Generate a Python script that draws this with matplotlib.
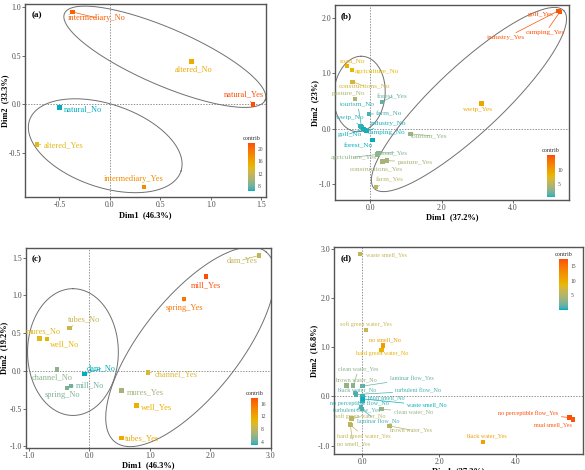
import numpy as np
import matplotlib
matplotlib.use("Agg")
import matplotlib.pyplot as plt
from matplotlib.colors import ListedColormap, Normalize, to_rgb
from matplotlib.ticker import FormatStrFormatter

# ---- panel (a) ----
names_a = ['intermediary_No', 'altered_No', 'natural_Yes', 'natural_No', 'altered_Yes', 'intermediary_Yes']
x_a = [-0.37, 0.81, 1.42, -0.50, -0.72, 0.34]
y_a = [0.95, 0.44, 0.00, -0.03, -0.41, -0.85]
contrib_a = [20.8, 15.2, 21.8, 6.4, 13.8, 18.0]

# ---- panel (b) ----
names_b = ['golf_Yes', 'camping_Yes', 'industry_Yes', 'wwtp_Yes', 'road_No', 'agriculture_No',
           'constructions_No', 'pasture_No', 'forest_Yes', 'tourism_No', 'farm_No', 'wwtp_No',
           'industry_No', 'camping_No', 'golf_No', 'tourism_Yes', 'forest_No', 'road_Yes',
           'agriculture_Yes', 'pasture_Yes', 'constructions_Yes', 'farm_Yes']
x_b = [5.30, 5.32, 5.28, 3.12, -0.65, -0.51, -0.49, -0.42, 0.33, -0.24, -0.03, -0.27,
       -0.10, -0.14, -0.19, 1.13, 0.07, 0.23, 0.21, 0.47, 0.35, 0.17]
y_b = [2.12, 2.11, 2.13, 0.46, 1.13, 1.06, 0.85, 0.54, 0.49, 0.03, 0.27, 0.05,
       -0.04, -0.02, 0.00, -0.09, -0.20, -0.43, -0.46, -0.57, -0.59, -1.05]
contrib_b = [15.4, 15.2, 15.0, 9.5, 8.5, 8.0, 6.5, 4.5, 1.8, 0.9, 1.2, 0.8,
             0.6, 0.6, 0.6, 3.5, 0.5, 2.8, 3.2, 4.0, 4.2, 5.0]

# ---- panel (c) ----
names_c = ['dam_Yes', 'mill_Yes', 'spring_Yes', 'tubes_No', 'mures_No', 'well_No', 'channel_No',
           'dam_No', 'mill_No', 'spring_No', 'channel_Yes', 'mures_Yes', 'well_Yes', 'tubes_Yes']
x_c = [2.80, 1.93, 1.56, -0.33, -0.82, -0.70, -0.53, -0.08, -0.30, -0.37, 0.97, 0.53, 0.78, 0.53]
y_c = [1.53, 1.25, 0.95, 0.57, 0.43, 0.42, 0.02, -0.04, -0.20, -0.23, -0.02, -0.26, -0.46, -0.89]
contrib_c = [8.0, 17.8, 15.5, 8.5, 10.0, 10.5, 5.5, 3.0, 4.5, 5.0, 9.5, 6.5, 11.0, 11.5]

# ---- panel (d) ----
names_d = ['waste smell_Yes', 'soft green water_Yes', 'no smell_No', 'hard green water_No',
           'clean water_Yes', 'brown water_No', 'laminar flow_Yes', 'black water_No',
           'turbulent flow_No', 'mud smell_No', 'no perceptible flow_No', 'waste smell_No',
           'turbulent flow_Yes', 'clean water_No', 'soft green water_No', 'laminar flow_No',
           'brown water_Yes', 'hard green water_Yes', 'no smell_Yes', 'black water_Yes',
           'no perceptible flow_Yes', 'mud smell_Yes']
x_d = [-0.07, 0.09, 0.54, 0.50, -0.24, -0.42, 0.00, -0.20, -0.17, 0.00, 0.00, 0.01,
       -0.03, 0.50, -0.28, -0.01, 0.71, -0.31, -0.32, 3.15, 5.40, 5.49]
y_d = [2.90, 1.35, 1.04, 0.95, 0.22, 0.22, 0.21, 0.07, 0.04, 0.01, -0.08, -0.05,
       -0.22, -0.26, -0.45, -0.26, -0.60, -0.58, -0.57, -0.92, -0.43, -0.47]
contrib_d = [6.0, 6.5, 11.5, 9.5, 3.0, 3.5, 1.5, 1.5, 0.8, 0.6, 0.5, 0.1,
             1.0, 3.5, 5.5, 0.9, 5.0, 6.5, 5.5, 11.0, 17.5, 17.0]

# label positions (repelled text), data units
lab_a = [(-0.13, 0.89), (0.83, 0.36), (1.33, 0.10), (-0.27, -0.05), (-0.46, -0.42), (0.24, -0.77)]
lab_b = [(4.79, 2.07), (4.91, 1.73), (3.80, 1.64), (3.02, 0.35), (-0.48, 1.23), (0.20, 1.04),
         (-0.17, 0.77), (-0.60, 0.64), (0.62, 0.58), (-0.35, 0.45), (0.54, 0.27), (-0.56, 0.20),
         (0.51, 0.10), (0.47, -0.06), (-0.58, -0.09), (1.67, -0.12), (-0.33, -0.30), (0.67, -0.43),
         (-0.47, -0.51), (1.26, -0.60), (0.17, -0.72), (0.54, -0.92)]
lab_c = [(2.53, 1.47), (1.92, 1.14), (1.57, 0.83), (-0.08, 0.69), (-0.75, 0.53), (-0.41, 0.35),
         (-0.61, -0.08), (0.19, 0.03), (0.02, -0.19), (-0.45, -0.32), (1.43, -0.04), (0.92, -0.28),
         (1.11, -0.48), (0.87, -0.89)]
lab_d = [(0.63, 2.87), (0.10, 1.47), (0.58, 1.15), (0.51, 0.88), (-0.10, 0.56), (-0.16, 0.34),
         (1.28, 0.36), (-0.16, 0.13), (1.46, 0.11), (0.63, -0.02), (-0.07, -0.13), (1.67, -0.18),
         (-0.16, -0.28), (1.32, -0.31), (-0.05, -0.41), (0.41, -0.52), (1.25, -0.68), (0.03, -0.81),
         (-0.24, -0.97), (3.24, -0.81), (4.33, -0.34), (4.97, -0.58)]

plt.rcParams['font.family'] = ['Liberation Serif', 'DejaVu Serif']

# gradient teal -> yellow -> red, interpolated in CIELAB like ggplot
M = np.array([[0.4124, 0.3576, 0.1805], [0.2126, 0.7152, 0.0722], [0.0193, 0.1192, 0.9505]])
WHITE = np.array([0.95047, 1.0, 1.08883])


def to_lab(rgb):
    rgb = np.asarray(rgb, float)
    lin = np.where(rgb <= 0.04045, rgb / 12.92, ((rgb + 0.055) / 1.055) ** 2.4)
    xyz = lin @ M.T / WHITE
    f = np.where(xyz > 0.008856, np.cbrt(xyz), 7.787 * xyz + 16 / 116)
    return np.stack([116 * f[..., 1] - 16, 500 * (f[..., 0] - f[..., 1]), 200 * (f[..., 1] - f[..., 2])], -1)


def from_lab(lab):
    fy = (lab[..., 0] + 16) / 116
    f = np.stack([fy + lab[..., 1] / 500, fy, fy - lab[..., 2] / 200], -1)
    xyz = np.where(f > 0.2069, f ** 3, (f - 16 / 116) / 7.787) * WHITE
    lin = np.clip(xyz @ np.linalg.inv(M).T, 0, 1)
    return np.clip(np.where(lin <= 0.0031308, 12.92 * lin, 1.055 * lin ** (1 / 2.4) - 0.055), 0, 1)


stops = to_lab([to_rgb(c) for c in ['#00AFBB', '#E7B800', '#FC4E07']])
t = np.linspace(0, 1, 256)
ramp = np.stack([np.interp(t, [0, 0.5, 1], stops[:, k]) for k in range(3)], -1)
cmap = ListedColormap(from_lab(ramp))


def ellipse(ax, c, u, v):
    a = np.linspace(0, 2 * np.pi, 300)
    ax.plot(c[0] + u[0] * np.cos(a) + v[0] * np.sin(a),
            c[1] + u[1] * np.cos(a) + v[1] * np.sin(a), color='#707070', lw=0.7, zorder=1)


def panel(ax, names, x, y, contrib, labs, fs, tag, xlab, ylab, xl_y, yl_x, cb_rect, cb_ticks):
    norm = Normalize(min(contrib), max(contrib))
    ax.axhline(0, color='#666666', lw=0.5, ls=(0, (2, 2)), zorder=0)
    ax.axvline(0, color='#666666', lw=0.5, ls=(0, (2, 2)), zorder=0)
    sc = ax.scatter(x, y, c=contrib, cmap=cmap, norm=norm, marker='s', s=10, linewidths=0, zorder=3)
    for n, xi, yi, ci, (lx, ly) in zip(names, x, y, contrib, labs):
        col = cmap(norm(ci))
        ax.annotate(n, (xi, yi), xytext=(lx, ly), ha='center', va='center', fontsize=fs, color=col,
                    arrowprops=dict(arrowstyle='-', color=col, lw=0.5, shrinkA=0, shrinkB=1.5))
    for s in ax.spines.values():
        s.set_color('#555555')
        s.set_linewidth(1.0)
    ax.tick_params(labelsize=5.6, length=2, width=0.6, color='#555555', labelcolor='#4d4d4d', pad=1)
    ax.xaxis.set_major_formatter(FormatStrFormatter('%.1f'))
    ax.yaxis.set_major_formatter(FormatStrFormatter('%.1f'))
    ax.set_xlabel(xlab, fontsize=6, fontweight='bold')
    ax.set_ylabel(ylab, fontsize=6, fontweight='bold')
    ax.xaxis.set_label_coords(0.5, xl_y)
    ax.yaxis.set_label_coords(yl_x, 0.5)
    ax.text(0.025, 0.965, tag, transform=ax.transAxes, fontsize=6.5, fontweight='bold', va='top')
    cax = ax.inset_axes(cb_rect)
    cb = plt.colorbar(sc, cax=cax, ticks=cb_ticks)
    cb.outline.set_visible(False)
    cax.tick_params(labelsize=4, length=0, pad=2, labelcolor='#4d4d4d')
    cax.set_title('contrib', fontsize=4.5, pad=2, color='#333333')


fig = plt.figure(figsize=(5.85, 4.70), dpi=100)
ax_a = fig.add_axes([0.043, 0.581, 0.412, 0.410])
ax_b = fig.add_axes([0.573, 0.5745, 0.400, 0.4145])
ax_c = fig.add_axes([0.044, 0.047, 0.419, 0.4255])
ax_d = fig.add_axes([0.571, 0.034, 0.4256, 0.4406])

# (a)
ax_a.set_xlim(-0.84, 1.55)
ax_a.set_ylim(-0.95, 1.03)
ax_a.set_xticks([-0.5, 0.0, 0.5, 1.0, 1.5])
ax_a.set_yticks([-0.5, 0.0, 0.5, 1.0])
ellipse(ax_a, (0.545, 0.49), (0.995, -0.445), (0.112, 0.27))
ellipse(ax_a, (-0.046, -0.424), (0.752, -0.259), (-0.125, -0.407))
panel(ax_a, names_a, x_a, y_a, contrib_a, lab_a, 6, '(a)', 'Dim1  (46.3%)', 'Dim2  (33.3%)',
      -0.075, -0.068, [0.925, 0.031, 0.029, 0.249], [8, 12, 16, 20])

# (b)
ax_b.set_xlim(-0.98, 5.58)
ax_b.set_ylim(-1.28, 2.23)
ax_b.set_xticks([0.0, 2.0, 4.0])
ax_b.set_yticks([-1.0, 0.0, 1.0, 2.0])
ellipse(ax_b, (-0.30, 0.63), (0.05, 0.68), (0.72, 0.0))
ellipse(ax_b, (2.77, 0.53), (2.66, 1.60), (0.64, -0.44))
panel(ax_b, names_b, x_b, y_b, contrib_b, lab_b, 5.2, '(b)', 'Dim1  (37.2%)', 'Dim2  (23%)',
      -0.07, -0.07, [0.906, 0.015, 0.034, 0.215], [5, 10])

# (c)
ax_c.set_xlim(-1.05, 3.0)
ax_c.set_ylim(-1.02, 1.63)
ax_c.set_xticks([-1.0, 0.0, 1.0, 2.0, 3.0])
ax_c.set_yticks([-1.0, -0.5, 0.0, 0.5, 1.0, 1.5])
ellipse(ax_c, (-0.27, 0.25), (0.0, 0.84), (0.75, 0.0))
ellipse(ax_c, (1.67, 0.32), (1.25, 1.258), (0.627, -0.41))
panel(ax_c, names_c, x_c, y_c, contrib_c, lab_c, 6, '(c)', 'Dim1  (46.3%)', 'Dim2  (19.2%)',
      -0.068, -0.071, [0.918, 0.015, 0.03, 0.235], [4, 8, 12, 16])

# (d)
ax_d.set_xlim(-0.74, 5.75)
ax_d.set_ylim(-1.17, 3.04)
ax_d.set_xticks([0.0, 2.0, 4.0])
ax_d.set_yticks([-1.0, 0.0, 1.0, 2.0, 3.0])
panel(ax_d, names_d, x_d, y_d, contrib_d, lab_d, 4.4, '(d)', 'Dim1  (37.2%)', 'Dim2  (16.8%)',
      -0.062, -0.062, [0.904, 0.697, 0.036, 0.245], [5, 10, 15])

fig.savefig('out.png', dpi=100)
